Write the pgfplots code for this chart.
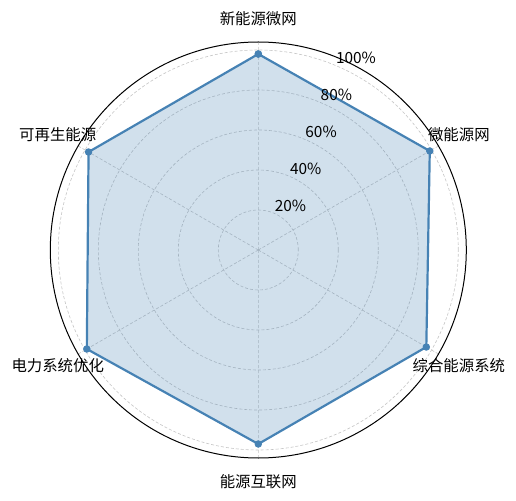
\documentclass[border=0pt]{standalone}
\usepackage{fontspec}
\setmainfont{Noto Sans CJK SC}
\usepackage{pgfplots}
\pgfplotsset{compat=1.18}
\usepgfplotslibrary{polar}
\definecolor{steel}{HTML}{4682B4}
\definecolor{gridc}{HTML}{C4C4C4}
\tikzset{
  lab/.style={font=\fontsize{15.4}{18}\selectfont, inner sep=0pt},
  rl/.style={font=\fontsize{15.4}{18}\selectfont, anchor=south west, inner sep=1pt},
}
\begin{document}
\begin{tikzpicture}
\begin{polaraxis}[
  scale only axis, width=416pt, height=416pt,
  ymin=0, ymax=1.04,
  xtick={30,90,150,210,270,330},
  xticklabels={},
  ytick={0.2,0.4,0.6,0.8,1.0},
  yticklabels={},
  xmajorgrids, ymajorgrids,
  major grid style={gridc, dash pattern=on 3pt off 2pt, line width=0.6pt},
  axis line style={black, line width=1pt},
  y axis line style={draw=none},
  major tick length=0pt,
  tick style={draw=none},
  clip=false,
]
\addplot[steel, line width=2.2pt, fill=steel, fill opacity=0.25,
  mark=*, mark size=3.2pt, mark options={fill=steel, draw=steel, fill opacity=1, line width=1pt}]
  coordinates {(90,0.98) (30,0.99) (330,0.97) (270,0.97) (210,0.99) (150,0.98) (90,0.98)};
\coordinate (c) at (axis cs:0,0);
\node[lab] at (axis cs:90,1.158) {新能源微网};
\node[lab] at (axis cs:30,1.158) {微能源网};
\node[lab] at (axis cs:330,1.158) {综合能源系统};
\node[lab] at (axis cs:270,1.158) {能源互联网};
\node[lab] at (axis cs:210,1.158) {电力系统优化};
\node[lab] at (axis cs:150,1.158) {可再生能源};
\node[rl] at (axis cs:67.5,0.2) {20\%};
\node[rl] at (axis cs:67.5,0.4) {40\%};
\node[rl] at (axis cs:67.5,0.6) {60\%};
\node[rl] at (axis cs:67.5,0.8) {80\%};
\node[rl] at (axis cs:67.5,1.0) {100\%};
\end{polaraxis}
\path (c) ++(-258.3pt,-250pt) rectangle ++(516pt,500pt);
\end{tikzpicture}
\end{document}
